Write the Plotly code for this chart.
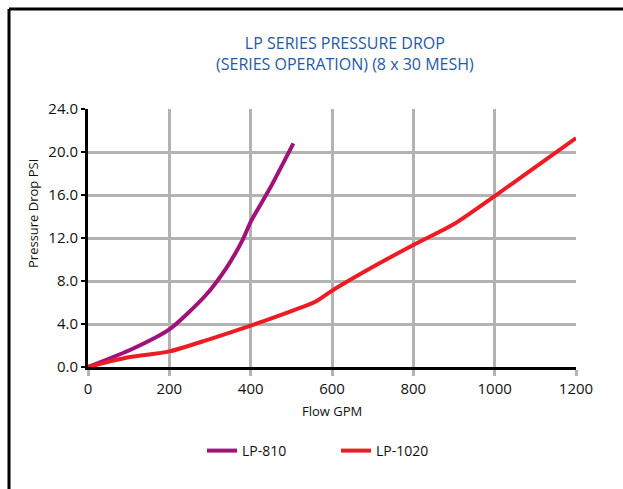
import plotly.graph_objects as go

# Data
lp810_flow = [0, 110, 200, 290, 340, 380, 400, 450, 505]
lp810_psi = [0, 1.7, 3.5, 6.7, 9.2, 11.8, 13.5, 16.8, 20.8]

lp1020_flow = [0, 100, 200, 300, 400, 500, 560, 600, 700, 800, 900, 1000, 1100, 1200]
lp1020_psi = [0, 0.9, 1.45, 2.6, 3.85, 5.2, 6.1, 7.1, 9.3, 11.35, 13.3, 15.9, 18.6, 21.3]

x_ticks = [0, 200, 400, 600, 800, 1000, 1200]
y_ticks = [0, 4, 8, 12, 16, 20, 24]

FONT = "Open Sans"

fig = go.Figure()
fig.add_trace(go.Scatter(x=lp810_flow, y=lp810_psi, name="LP-810", mode="lines",
                         line=dict(color="#a0127a", width=4, shape="spline", smoothing=0.7)))
fig.add_trace(go.Scatter(x=lp1020_flow, y=lp1020_psi, name="LP-1020", mode="lines",
                         line=dict(color="#ed1c24", width=4, shape="spline", smoothing=0.8)))

W, H = 623, 489
ml, mr, mt, mb = 88, 47, 109, 122

def px2paper_x(px):
    return (px - ml) / (W - ml - mr)

def px2paper_y(py):
    return (H - mb - py) / (H - mt - mb)

fig.update_layout(
    width=W, height=H,
    margin=dict(l=ml, r=mr, t=mt, b=mb),
    paper_bgcolor="white", plot_bgcolor="white",
    font=dict(family=FONT, color="#111111"),
    showlegend=True,
    legend=dict(orientation="h", x=px2paper_x(202), xanchor="left",
                y=px2paper_y(451), yanchor="middle",
                font=dict(size=14, family=FONT, color="#111111"),
                entrywidth=89, entrywidthmode="pixels", tracegroupgap=0),
    xaxis=dict(range=[0, 1200], tickvals=x_ticks, ticktext=[str(v) for v in x_ticks],
               showgrid=True, gridcolor="#b3b3b3", gridwidth=2.5,
               showline=True, linecolor="black", linewidth=3,
               ticks="outside", ticklen=6, tickwidth=2.5, tickcolor="#b3b3b3",
               tickfont=dict(size=15, family=FONT, color="#111111"),
               zeroline=False, fixedrange=True),
    yaxis=dict(range=[0, 24], tickvals=y_ticks, tickformat=".1f",
               showgrid=True, gridcolor="#b3b3b3", gridwidth=2.5,
               showline=True, linecolor="black", linewidth=3,
               ticks="outside", ticklen=4, tickwidth=2, tickcolor="black",
               tickfont=dict(size=15, family=FONT, color="#111111"),
               zeroline=False, fixedrange=True),
    annotations=[
        dict(text="LP SERIES PRESSURE DROP<br>(SERIES OPERATION) (8 x 30 MESH)",
             x=px2paper_x(345), y=px2paper_y(53), xref="paper", yref="paper",
             xanchor="center", yanchor="middle", showarrow=False,
             font=dict(size=16, family=FONT, color="#1f5aa6")),
        dict(text="Flow GPM", x=px2paper_x(332), y=px2paper_y(411), xref="paper", yref="paper",
             xanchor="center", yanchor="middle", showarrow=False,
             font=dict(size=13, family=FONT, color="#111111")),
        dict(text="Pressure Drop PSI", x=px2paper_x(33), y=px2paper_y(214), xref="paper", yref="paper",
             xanchor="center", yanchor="middle", showarrow=False, textangle=-90,
             font=dict(size=13, family=FONT, color="#111111")),
    ],
    shapes=[
        dict(type="line", xref="paper", yref="paper",
             x0=px2paper_x(9), x1=px2paper_x(9), y0=px2paper_y(9), y1=px2paper_y(500),
             line=dict(color="black", width=3)),
        dict(type="line", xref="paper", yref="paper",
             x0=px2paper_x(9), x1=px2paper_x(623), y0=px2paper_y(9), y1=px2paper_y(9),
             line=dict(color="black", width=3)),
    ],
)

fig.write_html("out.html", config={"displayModeBar": False}, default_width="623px",
               default_height="489px",
               post_script=("document.body.style.margin='0px';"
                            "document.body.style.overflow='hidden';"
                            "document.documentElement.style.overflow='hidden';"))
